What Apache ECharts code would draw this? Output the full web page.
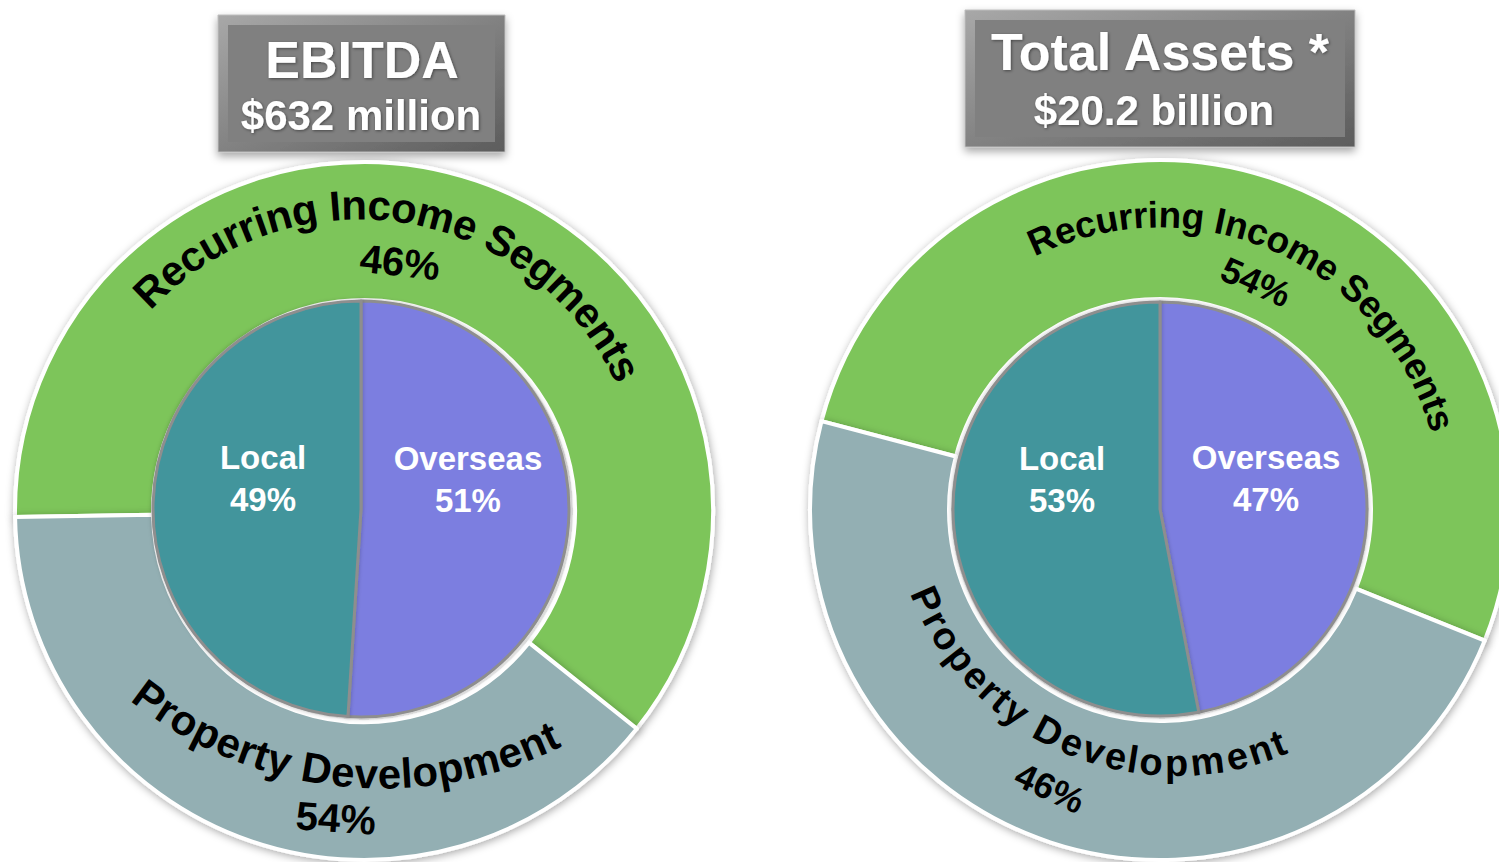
<!DOCTYPE html>
<html>
<head>
<meta charset="utf-8">
<script src="https://cdn.jsdelivr.net/npm/echarts@6/dist/echarts.min.js"></script>
<style>
  html, body { margin: 0; padding: 0; background: #fff; }
  #main { width: 1499px; height: 862px; }
</style>
</head>
<body>
<div id="main"></div>
<script>
// outer ring: segment names, printed shares, and arc sizes as drawn on the slide
const ringNames = ['Recurring Income Segments', 'Property Development'];
const ebitdaRingPct = [46, 54];
const ebitdaRingArc = [61, 39];
const assetsRingPct = [54, 46];
const assetsRingArc = [52, 48];

// inner pie: geography split
const regionNames = ['Overseas', 'Local'];
const ebitdaRegionPct = [51, 49];
const assetsRegionPct = [47, 53];

const titles = [
  ['EBITDA', '$632 million'],
  ['Total Assets *', '$20.2 billion']
];

const FONT = '"Liberation Sans", Arial, sans-serif';
const GREEN = '#7dc55a';
const GREY = '#93afb3';
const PURPLE = '#7b7ee0';
const TEAL = '#42959c';

const chart = echarts.init(document.getElementById('main'), null, { renderer: 'svg' });

// measure glyph widths so curved text keeps its natural spacing
const ctx = document.createElement('canvas').getContext('2d');
function charWidths(str, size) {
  ctx.font = 'bold ' + size + 'px ' + FONT;
  return str.split('').map(c => ctx.measureText(c).width);
}

// lay a string along a circle; char centres run from angle a0 to a1 (degrees, ccw from 3 o'clock)
// top = true: letters point outward; false: letters point to the centre
function arcText(str, cx, cy, r, a0, a1, size, top) {
  const w = charWidths(str, size);
  const mids = [];
  let acc = 0;
  w.forEach(x => {
    mids.push(acc + x / 2);
    acc += x;
  });
  const first = mids[0];
  const last = mids[mids.length - 1];
  return str.split('').map((c, i) => {
    const t = (mids[i] - first) / (last - first);
    const a = a0 + t * (a1 - a0);
    const rad = (a * Math.PI) / 180;
    return {
      type: 'text',
      x: cx + r * Math.cos(rad),
      y: cy - r * Math.sin(rad),
      rotation: ((top ? a - 90 : a - 270) * Math.PI) / 180,
      z: 10,
      style: {
        text: c,
        fill: '#000',
        font: 'bold ' + size + 'px ' + FONT,
        align: 'center',
        verticalAlign: 'middle'
      }
    };
  });
}

function pctText(txt, x, y, deg, size) {
  return {
    type: 'text',
    x: x,
    y: y,
    rotation: (deg * Math.PI) / 180,
    z: 10,
    style: {
      text: txt,
      fill: '#000',
      font: 'bold ' + size + 'px ' + FONT,
      align: 'center',
      verticalAlign: 'middle'
    }
  };
}

function titleBox(x, y, w, h, lines, cx1, cx2, y1, y2, s1, s2) {
  const txt = (s, tx, ty, size) => ({
    type: 'text',
    x: tx,
    y: ty,
    z: 5,
    style: {
      text: s,
      fill: '#fff',
      font: 'bold ' + size + 'px ' + FONT,
      align: 'center',
      verticalAlign: 'middle',
      textShadowColor: 'rgba(0,0,0,0.45)',
      textShadowBlur: 3,
      textShadowOffsetX: 1,
      textShadowOffsetY: 1
    }
  });
  return [
    {
      type: 'rect',
      shape: { x: x, y: y, width: w, height: h },
      style: {
        fill: new echarts.graphic.LinearGradient(0, 0, 1, 1, [
          { offset: 0, color: '#a8a8a8' },
          { offset: 1, color: '#5c5c5c' }
        ]),
        stroke: '#bdbdbd',
        lineWidth: 1,
        shadowBlur: 8,
        shadowOffsetY: 4,
        shadowColor: 'rgba(0,0,0,0.35)'
      }
    },
    {
      type: 'rect',
      shape: { x: x + 10, y: y + 10, width: w - 20, height: h - 20 },
      style: { fill: '#808080' }
    },
    txt(lines[0], cx1, y1, s1),
    txt(lines[1], cx2, y2, s2)
  ];
}

function ring(center, radius, startAngle, arcs) {
  return {
    type: 'pie',
    silent: true,
    center: center,
    radius: radius,
    startAngle: startAngle,
    clockwise: true,
    label: { show: false },
    labelLine: { show: false },
    itemStyle: {
      borderColor: '#fff',
      borderWidth: 4,
      shadowBlur: 8,
      shadowOffsetX: 1,
      shadowOffsetY: 2,
      shadowColor: 'rgba(0,0,0,0.35)'
    },
    data: [
      { name: ringNames[0], value: arcs[0], itemStyle: { color: GREEN } },
      { name: ringNames[1], value: arcs[1], itemStyle: { color: GREY } }
    ]
  };
}

// lift: how far each inside label sits above the slice centroid; nudge: sideways push for Local
function regions(center, radius, pct, lift, nudge) {
  return {
    type: 'pie',
    silent: true,
    center: center,
    radius: radius,
    startAngle: 90,
    clockwise: true,
    z: 3,
    labelLine: { show: false },
    label: {
      show: true,
      position: 'inside',
      formatter: p => {
        const i = p.dataIndex;
        const pad = i === 1 ? '{x| }' : '';
        return pad + '{t|' + p.name + '}\n' + pad + '{t|' + p.value + '%}\n{s' + i + '| }';
      },
      rich: {
        t: {
          color: '#fff',
          fontFamily: FONT,
          fontWeight: 'bold',
          fontSize: 33,
          lineHeight: 42
        },
        x: { width: nudge * 2, fontSize: 1 },
        s0: { height: lift[0] * 2, lineHeight: lift[0] * 2, fontSize: 1 },
        s1: { height: lift[1] * 2, lineHeight: lift[1] * 2, fontSize: 1 }
      }
    },
    itemStyle: {
      borderColor: '#8e8e8e',
      borderWidth: 3,
      shadowBlur: 4,
      shadowColor: 'rgba(0,0,0,0.25)'
    },
    data: regionNames.map((n, i) => ({
      name: n,
      value: pct[i],
      itemStyle: { color: i === 0 ? PURPLE : TEAL }
    }))
  };
}

const option = {
  animation: false,
  backgroundColor: '#fff',
  series: [
    ring([364, 511], [211, 349], 181, ebitdaRingArc),
    regions([361, 509], [0, 208], ebitdaRegionPct, [33, 27], 9),
    ring([1160, 510], [211, 350], 165.3, assetsRingArc),
    regions([1160, 509], [0, 207], assetsRegionPct, [20, 40], 8)
  ],
  graphic: [].concat(
    titleBox(218, 15, 287, 137, titles[0], 362, 361, 60, 115, 52, 42),
    titleBox(965, 10, 390, 137, titles[1], 1160, 1154, 52, 110, 52, 42),
    arcText(ringNames[0], 359, 503, 298, 134.3, 27, 42, true),
    arcText(ringNames[1], 382, 384, 390, 233.4, 295.5, 42, false),
    arcText(ringNames[0], 1160, 509, 294, 113.7, 17.6, 37, true),
    arcText(ringNames[1], 1176, 491, 272, 203.6, 292.1, 38, false),
    pctText(ebitdaRingPct[0] + '%', 400, 262, -6, 40),
    pctText(ebitdaRingPct[1] + '%', 336, 818, -4, 40),
    pctText(assetsRingPct[0] + '%', 1256, 282, -24, 36),
    pctText(assetsRingPct[1] + '%', 1050, 788, -25, 36)
  )
};

chart.setOption(option);
</script>
</body>
</html>
